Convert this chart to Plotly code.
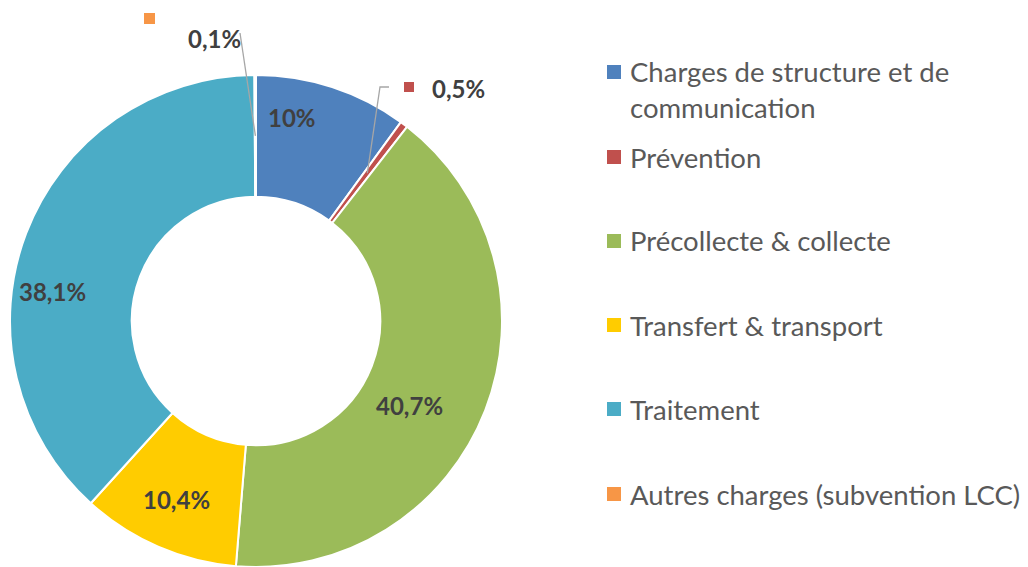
import math
import plotly.graph_objects as go

categories = [
    "Charges de structure et de communication",
    "Prévention",
    "Précollecte & collecte",
    "Transfert & transport",
    "Traitement",
    "Autres charges (subvention LCC)",
]
legend_labels = [
    "Charges de structure et de<br>communication",
    "Prévention",
    "Précollecte & collecte",
    "Transfert & transport",
    "Traitement",
    "Autres charges (subvention LCC)",
]
shares = [10.0, 0.5, 40.7, 10.4, 38.1, 0.1]
share_labels = ["10%", "0,5%", "40,7%", "10,4%", "38,1%", "0,1%"]
colors = ["#4F81BD", "#C0504D", "#9BBB59", "#FFCC00", "#4BACC6", "#F79646"]

# page has an 8px body margin, so the figure is a bit smaller than the window
OFF = 8
W, H = 1028 - OFF, 567 - OFF
CX, CY, R = 256, 321, 246
HOLE = 0.505
LABEL_COLOR = "#404040"
LEGEND_COLOR = "#595959"
FONT = "Lato"

# where Excel put the data labels (pixel centres), in slice order
label_pos = [(292, 118), None, (409, 405), (176, 499), (52, 291), None]


def px(x):
    return (x - OFF) / W


def py(y):
    return 1 - (y - OFF) / H


fig = go.Figure(
    go.Pie(
        labels=categories,
        values=shares,
        textinfo="none",
        sort=False,
        direction="clockwise",
        rotation=0,
        hole=HOLE,
        marker=dict(colors=colors, line=dict(color="white", width=2)),
        domain=dict(x=[px(CX - R), px(CX + R)], y=[max(py(CY + R), 0), py(CY - R)]),
        showlegend=False,
        hoverinfo="label+percent",
    )
)


def mid_point(i, r):
    total = sum(shares)
    start = sum(shares[:i]) / total * 360
    ang = math.radians(start + shares[i] / total * 180)
    return CX + r * math.sin(ang), CY - r * math.cos(ang)


r_mid = R * (1 + HOLE) / 2
shapes = []
annotations = []

# data labels inside the ring
for lab, pos in zip(share_labels, label_pos):
    if pos is None:
        continue
    annotations.append(dict(x=px(pos[0]), y=py(pos[1]), xref="paper", yref="paper",
                            text="<b>" + lab + "</b>", showarrow=False,
                            xanchor="center", yanchor="middle",
                            font=dict(family=FONT, size=24, color=LABEL_COLOR)))

# 0,5% label
x0, y0 = mid_point(1, r_mid)
shapes.append(dict(type="path", xref="paper", yref="paper",
                   path=f"M {px(x0)},{py(y0)} L {px(380)},{py(87)} L {px(389)},{py(87)}",
                   line=dict(color="#A6A6A6", width=1.3)))
shapes.append(dict(type="rect", xref="paper", yref="paper",
                   x0=px(404), x1=px(414), y0=py(82), y1=py(92),
                   fillcolor=colors[1], line=dict(width=0)))
annotations.append(dict(x=px(430), y=py(88), xref="paper", yref="paper",
                        text="<b>" + share_labels[1] + "</b>", showarrow=False,
                        xanchor="left", yanchor="middle",
                        font=dict(family=FONT, size=24, color=LABEL_COLOR)))

# 0,1% label
x0, y0 = mid_point(5, r_mid)
shapes.append(dict(type="line", xref="paper", yref="paper",
                   x0=px(x0), y0=py(y0), x1=px(240), y1=py(33),
                   line=dict(color="#A6A6A6", width=1.3)))
shapes.append(dict(type="rect", xref="paper", yref="paper",
                   x0=px(144), x1=px(155), y0=py(13), y1=py(24),
                   fillcolor=colors[5], line=dict(width=0)))
annotations.append(dict(x=px(214), y=py(38), xref="paper", yref="paper",
                        text="<b>" + share_labels[5] + "</b>", showarrow=False,
                        xanchor="center", yanchor="middle",
                        font=dict(family=FONT, size=24, color=LABEL_COLOR)))

# legend drawn by hand (Excel-like spacing)
legend_y = [90, 157, 241, 325, 409, 494]
legend_key_y = [72, 157, 241, 325, 409, 494]
for lab, col, ty, ky in zip(legend_labels, colors, legend_y, legend_key_y):
    shapes.append(dict(type="rect", xref="paper", yref="paper",
                       x0=px(607), x1=px(621), y0=py(ky - 7), y1=py(ky + 7),
                       fillcolor=col, line=dict(width=0)))
    annotations.append(dict(x=px(628), y=py(ty), xref="paper", yref="paper",
                            text=lab, showarrow=False, align="left",
                            xanchor="left", yanchor="middle",
                            font=dict(family=FONT, size=27.5, color=LEGEND_COLOR)))

fig.update_layout(
    width=W,
    height=H,
    margin=dict(l=0, r=0, t=0, b=0),
    paper_bgcolor="white",
    plot_bgcolor="white",
    shapes=shapes,
    annotations=annotations,
)

fig.write_html("out.html")
